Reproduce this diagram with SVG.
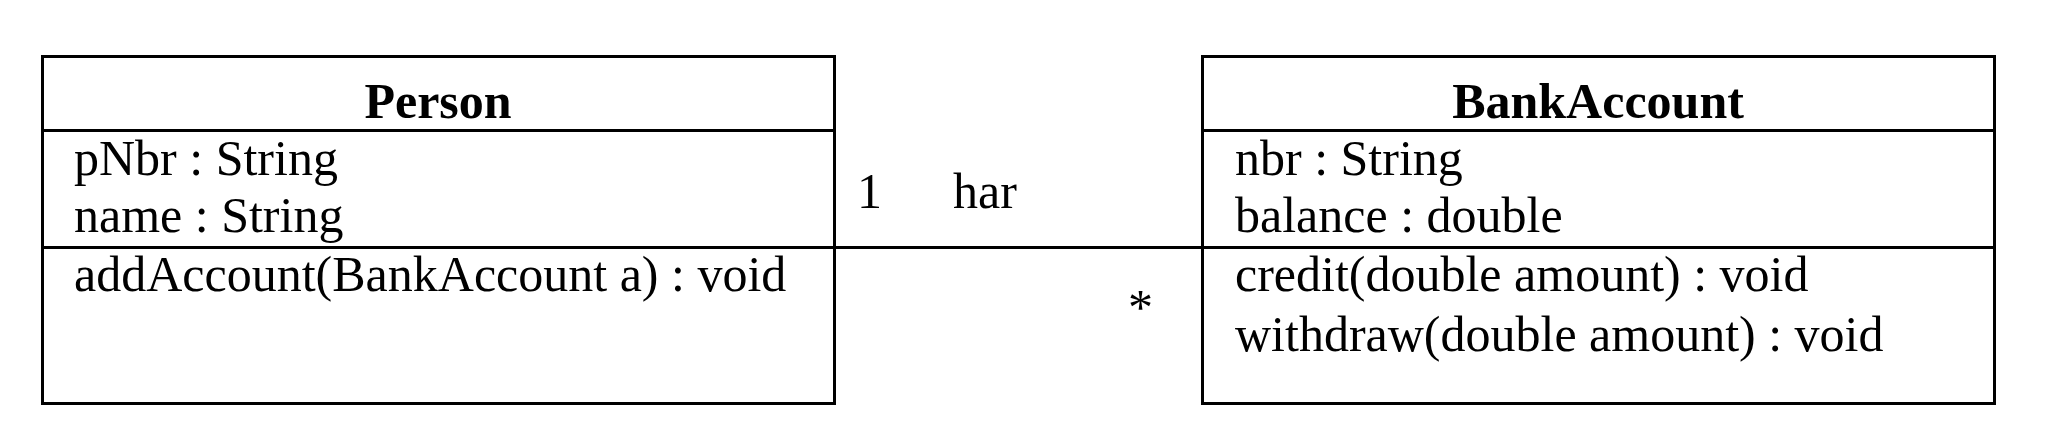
<svg xmlns="http://www.w3.org/2000/svg" width="2060" height="444" viewBox="0 0 2060 444">
<style>
.box{fill:#fff;stroke:#000;stroke-width:3}
.ln{stroke:#000;stroke-width:3;fill:none}
.t{font-family:"Liberation Serif","Times New Roman",serif;font-size:50px;fill:#000}
.h{font-weight:bold;text-anchor:middle}
</style>
<rect width="2060" height="444" fill="#fff"/>
<g id="connectors">
<line class="ln" x1="835" y1="247.5" x2="1202" y2="247.5"/>
<text class="t" x="857" y="208">1</text>
<text class="t" x="953" y="208">har</text>
<text class="t" x="1128" y="324">*</text>
</g>
<g id="Person">
<rect class="box" x="42.5" y="56.5" width="792" height="347"/>
<line class="ln" x1="42.5" y1="130.5" x2="834.5" y2="130.5"/>
<line class="ln" x1="42.5" y1="247.5" x2="834.5" y2="247.5"/>
<text class="t h" x="438" y="118">Person</text>
<text class="t" x="74" y="175">pNbr : String</text>
<text class="t" x="74" y="232">name : String</text>
<text class="t" x="74" y="291">addAccount(BankAccount a) : void</text>
</g>
<g id="BankAccount">
<rect class="box" x="1202.5" y="56.5" width="792" height="347"/>
<line class="ln" x1="1202.5" y1="130.5" x2="1994.5" y2="130.5"/>
<line class="ln" x1="1202.5" y1="247.5" x2="1994.5" y2="247.5"/>
<text class="t h" x="1598" y="118">BankAccount</text>
<text class="t" x="1235" y="175">nbr : String</text>
<text class="t" x="1235" y="232">balance : double</text>
<text class="t" x="1235" y="291">credit(double amount) : void</text>
<text class="t" x="1235" y="351">withdraw(double amount) : void</text>
</g>
</svg>
